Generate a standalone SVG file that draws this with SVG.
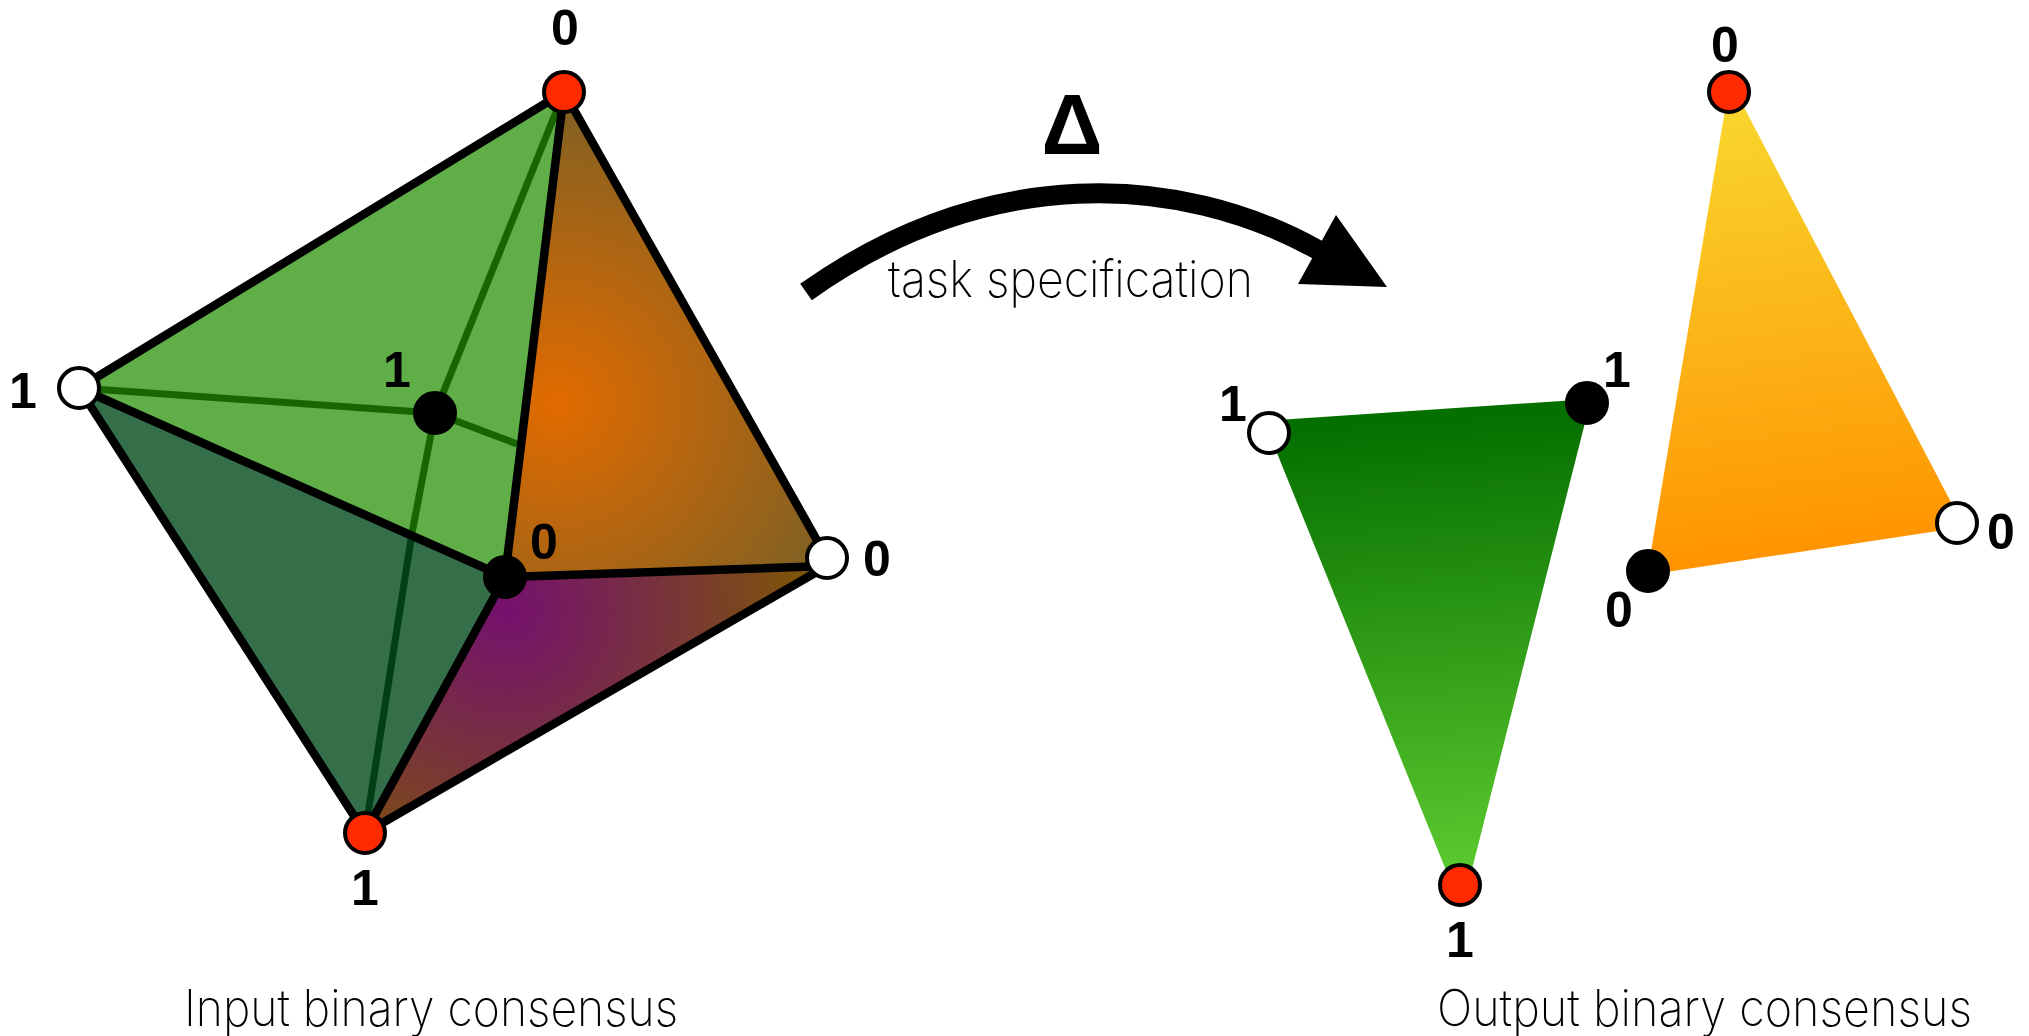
<svg xmlns="http://www.w3.org/2000/svg" width="2029" height="1036" viewBox="0 0 2029 1036">
<style>
.e{stroke:#000;stroke-width:8.500;fill:none;stroke-linecap:round}
.i{stroke:#176600;stroke-width:7;fill:none}
.n{font-family:"Liberation Sans",Arial,sans-serif;font-weight:700;font-size:50px;fill:#000;text-anchor:middle}
.c{font-family:Inter,"Liberation Sans",sans-serif;font-weight:200;fill:#000}
.red{fill:#ff2a00;stroke:#000;stroke-width:4}
.wht{fill:#fff;stroke:#000;stroke-width:4}
.blk{fill:#000;stroke:#000;stroke-width:4}
</style>
<defs>
<radialGradient id="go" gradientUnits="userSpaceOnUse" cx="557" cy="403" r="320"><stop offset="0" stop-color="#e26b00"/><stop offset="1" stop-color="#7a6025"/></radialGradient>
<radialGradient id="gp" gradientUnits="userSpaceOnUse" cx="507" cy="610" r="320"><stop offset="0" stop-color="#75106e"/><stop offset="0.5" stop-color="#78343a"/><stop offset="1" stop-color="#7f5a00"/></radialGradient>
<linearGradient id="gg" gradientUnits="userSpaceOnUse" x1="1430" y1="420" x2="1460" y2="880"><stop offset="0" stop-color="#056f00"/><stop offset="1" stop-color="#5ccb2f"/></linearGradient>
<linearGradient id="gy" gradientUnits="userSpaceOnUse" x1="1729" y1="92" x2="1790" y2="560"><stop offset="0" stop-color="#f8d82e"/><stop offset="1" stop-color="#ff9300"/></linearGradient>
</defs>
<g id="faces">
<polygon points="564,92 79,388 505,577" fill="#5fae48"/>
<polygon points="79,388 505,577 365,833" fill="#356f4a"/>
<polygon points="564,92 830,562 505,577" fill="url(#go)"/>
<polygon points="505,577 830,566 365,833" fill="url(#gp)"/>
<polygon points="1264,421 1591,399 1468,885 1452,885" fill="url(#gg)"/>
<polygon points="1728,92 1736,92 1964,527 1647,575" fill="url(#gy)"/>
</g>
<g id="connectors">
<path class="i" d="M564,92 L435,413 M79,388 L435,413 M435,413 L517,444 M435,413 L412,533"/>
<path class="i" style="stroke:#023f18" d="M412,533 L365,833"/>
<path class="e" d="M564,92 L79,388 M564,92 L827,558 M564,92 L505,577 M79,388 L505,577 M505,577 L827,566 M79,388 L365,833 M505,577 L365,833 M827,566 L365,833"/>
<path id="arrow-shaft" d="M806,292 C986,164 1178,172 1318,250" fill="none" stroke="#000" stroke-width="20"/>
<polygon id="arrow-head" points="1336,215 1387,287 1298,284"/>
</g>
<g id="n-top"><circle class="red" cx="564" cy="92" r="20"/><text class="n" x="565" y="45">0</text></g>
<g id="n-left"><circle class="wht" cx="79" cy="388" r="20"/><text class="n" x="23" y="408">1</text></g>
<g id="n-back"><circle class="blk" cx="435" cy="413" r="20"/><text class="n" x="397" y="387">1</text></g>
<g id="n-front"><circle class="blk" cx="505" cy="577" r="20"/><text class="n" x="544" y="559">0</text></g>
<g id="n-right"><circle class="wht" cx="827" cy="558" r="20"/><text class="n" x="877" y="576">0</text></g>
<g id="n-bottom"><circle class="red" cx="365" cy="833" r="20"/><text class="n" x="365" y="905">1</text></g>
<g id="o-top"><circle class="red" cx="1729" cy="92" r="20"/><text class="n" x="1725" y="62">0</text></g>
<g id="o-white2"><circle class="wht" cx="1957" cy="523" r="20"/><text class="n" x="2001" y="549">0</text></g>
<g id="o-black2"><circle class="blk" cx="1648" cy="571" r="20"/><text class="n" x="1619" y="627">0</text></g>
<g id="o-white1"><circle class="wht" cx="1269" cy="433" r="20"/><text class="n" x="1233" y="421">1</text></g>
<g id="o-black1"><circle class="blk" cx="1587" cy="403" r="20"/><text class="n" x="1617" y="387">1</text></g>
<g id="o-bottom"><circle class="red" cx="1460" cy="885" r="20"/><text class="n" x="1460" y="957">1</text></g>
<text id="delta" x="1072" y="154" text-anchor="middle" font-family="'Liberation Sans',Arial,sans-serif" font-weight="700" font-size="85">Δ</text>
<text id="task" class="c" x="888" y="297" font-size="51" textLength="365" lengthAdjust="spacingAndGlyphs">task specification</text>
<text id="input" class="c" x="184" y="1026" font-size="51" textLength="494" lengthAdjust="spacingAndGlyphs">Input binary consensus</text>
<text id="output" class="c" x="1437" y="1026" font-size="51" textLength="535" lengthAdjust="spacingAndGlyphs">Output binary consensus</text>
</svg>
